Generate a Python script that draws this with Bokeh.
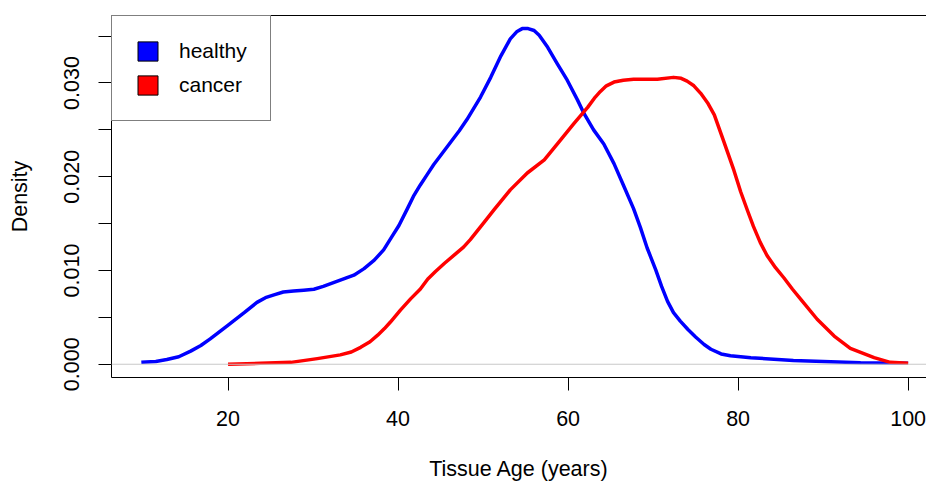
from bokeh.plotting import figure
from bokeh.models import Range1d, FixedTicker, LinearAxis, Span, Legend, LegendItem
from bokeh.embed import file_html
from bokeh.resources import INLINE

# ---- data ----
healthy_age = [9.8, 11.5, 12.8, 14.2, 15.6, 16.8, 17.9, 19.9, 21.9, 23.4, 24.4, 25.4, 26.5,
               27.7, 28.9, 30.1, 31.2, 32.4, 33.6, 34.8, 36.0, 37.2, 38.3, 39.2, 40.1,
               41.1, 41.8, 42.6, 43.4, 44.2, 45.2, 46.2, 47.2, 48.1, 49.7, 50.9, 52.1,
               53.2, 54.0, 54.6, 55.3, 56.0, 56.6, 57.6, 58.7, 59.9, 61.1, 61.9, 63.0,
               64.2, 65.4, 66.6, 67.7, 68.5, 69.3, 70.3, 71.0, 71.7, 72.4, 73.2, 74.1,
               75.0, 76.0, 76.8, 78.0, 79.1, 81.5, 86.5, 94.4, 100.0]
healthy_density = [0.0002, 0.0003, 0.0005, 0.0008, 0.0014, 0.0020, 0.0027, 0.0041, 0.0055,
                   0.0066, 0.0071, 0.0074, 0.0077, 0.0078, 0.0079, 0.0080, 0.0083, 0.0087,
                   0.0091, 0.0095, 0.0102, 0.0111, 0.0122, 0.0135, 0.0148, 0.0166, 0.0179,
                   0.0191, 0.0202, 0.0213, 0.0225, 0.0237, 0.0249, 0.0261, 0.0285, 0.0306,
                   0.0329, 0.0347, 0.0355, 0.0358, 0.0358, 0.0356, 0.0351, 0.0338, 0.0321,
                   0.0303, 0.0282, 0.0267, 0.0250, 0.0235, 0.0214, 0.0189, 0.0166, 0.0146,
                   0.0124, 0.0101, 0.0083, 0.0067, 0.0055, 0.0046, 0.0037, 0.0029, 0.0021,
                   0.0016, 0.0011, 0.0009, 0.0007, 0.0004, 0.00015, 0.0001]

cancer_age = [20.0, 23.8, 27.4, 30.5, 33.2, 34.5, 35.6, 36.7, 37.6, 38.4, 39.1, 40.3, 41.5,
              42.6, 43.5, 44.4, 45.5, 46.8, 47.7, 48.5, 50.0, 51.3, 53.2, 55.2, 57.2, 59.1,
              60.7, 62.3, 63.2, 63.8, 64.5, 65.4, 66.5, 67.7, 70.5, 72.4, 73.3, 74.0, 74.8,
              75.6, 76.4, 77.2, 78.3, 79.5, 80.3, 81.1, 81.8, 82.6, 83.4, 84.4, 85.4, 86.4,
              87.4, 89.3, 91.3, 93.2, 96.0, 97.9, 100.0]
cancer_density = [0.0, 0.0001, 0.0002, 0.0006, 0.0010, 0.0013, 0.0018, 0.0024, 0.0031,
                  0.0038, 0.0045, 0.0058, 0.0070, 0.0080, 0.0091, 0.0099, 0.0108, 0.0118,
                  0.0125, 0.0133, 0.0150, 0.0165, 0.0186, 0.0204, 0.0218, 0.0239, 0.0257,
                  0.0274, 0.0285, 0.0291, 0.0297, 0.0301, 0.0303, 0.0304, 0.0304, 0.0306,
                  0.0305, 0.0302, 0.0297, 0.0289, 0.0279, 0.0266, 0.0238, 0.0207, 0.0184,
                  0.0164, 0.0147, 0.0130, 0.0116, 0.0103, 0.0092, 0.0080, 0.0069, 0.0048,
                  0.0030, 0.0017, 0.0007, 0.0002, 0.0001]

x_ticks = [20, 40, 60, 80, 100]
y_ticks = [0.0, 0.005, 0.010, 0.015, 0.020, 0.025, 0.030, 0.035]
y_tick_labels = ["0.000", "", "0.010", "", "0.020", "", "0.030", ""]
series_names = ["healthy", "cancer"]
series_colors = ["#0000ff", "#ff0000"]

FONT = "Liberation Sans"
FS = "21.5px"

p = figure(width=926, height=483, output_backend="svg", toolbar_location=None,
           x_range=Range1d(6.29, 102.16), y_range=Range1d(-0.001415, 0.0372),
           min_border_left=111, min_border_right=0, min_border_top=15, min_border_bottom=105)
p.outline_line_color = None
p.grid.visible = False
p.background_fill_color = "white"
p.border_fill_color = "white"

# zero reference line
p.add_layout(Span(location=0, dimension="width", line_color="#c8c8c8", line_width=1))

r_h = p.line(healthy_age, healthy_density, line_color=series_colors[0], line_width=3.5,
             line_join="round", line_cap="butt")
r_c = p.line(cancer_age, cancer_density, line_color=series_colors[1], line_width=3.5,
             line_join="round", line_cap="butt")

# axes
xa = p.xaxis[0]
xa.ticker = FixedTicker(ticks=x_ticks)
xa.axis_label = "Tissue Age (years)"
ya = p.yaxis[0]
ya.ticker = FixedTicker(ticks=y_ticks)
ya.major_label_overrides = {t: l for t, l in zip(y_ticks, y_tick_labels)}
ya.axis_label = "Density"
ya.major_label_orientation = "vertical"

for ax in (xa, ya):
    ax.axis_line_color = "black"
    ax.axis_line_width = 1
    ax.major_tick_line_color = "black"
    ax.major_tick_out = 13
    ax.major_tick_in = 0
    ax.minor_tick_line_color = None
    ax.major_label_text_font = FONT
    ax.major_label_text_font_size = FS
    ax.major_label_text_color = "black"
    ax.axis_label_text_font = FONT
    ax.axis_label_text_font_size = FS
    ax.axis_label_text_font_style = "normal"
    ax.axis_label_text_color = "black"

xa.major_label_standoff = 20
xa.axis_label_standoff = 28
ya.major_label_standoff = 19
ya.axis_label_standoff = 30

top = LinearAxis(ticker=FixedTicker(ticks=[]), axis_line_color="black", axis_line_width=1,
                 major_tick_out=0, major_tick_in=0, minor_tick_out=0, minor_tick_in=0)
p.add_layout(top, "above")

# legend swatches (filled squares with black border); not drawn in the plot area
nan = float("nan")
sw_h = p.quad(left=[nan], right=[nan], top=[nan], bottom=[nan],
              fill_color=series_colors[0], line_color="black")
sw_c = p.quad(left=[nan], right=[nan], top=[nan], bottom=[nan],
              fill_color=series_colors[1], line_color="black")
legend = Legend(items=[LegendItem(label=series_names[0], renderers=[sw_h]),
                       LegendItem(label=series_names[1], renderers=[sw_c])],
                location="top_left", margin=0, padding=23, spacing=10,
                glyph_width=25, glyph_height=24, label_height=24, label_standoff=19,
                label_text_font=FONT, label_text_font_size="21px", label_text_color="black",
                border_line_color="black", border_line_width=1,
                background_fill_color="white", background_fill_alpha=1.0)
p.add_layout(legend)

open("out.html", "w").write(file_html(p, INLINE))
